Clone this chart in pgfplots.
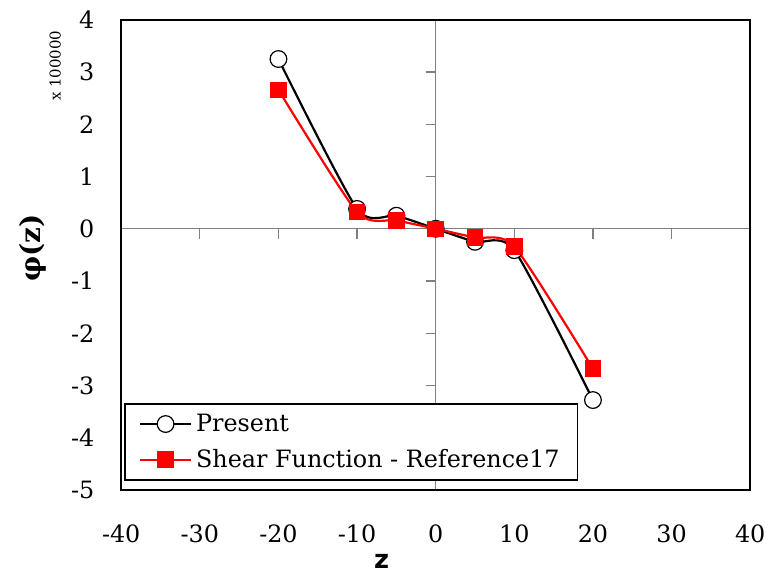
\documentclass[border=0pt]{standalone}
\usepackage{pgfplots}
\pgfplotsset{compat=1.18}
\usepackage{fontspec}
\setmainfont{DejaVu Serif}
\newfontfamily\labsans{DejaVu Sans}
\definecolor{axgrey}{HTML}{808080}
\definecolor{refred}{HTML}{FF0000}

\begin{document}
\begin{tikzpicture}
\pgfplotsset{
  myframe/.style={
    width=316.5pt, height=236.5pt, scale only axis,
    xmin=-40, xmax=40, ymin=-5, ymax=4,
  },
}
% zero lines, x ticks below the x zero line
\begin{axis}[
  myframe,
  axis lines=middle,
  axis line style={draw=axgrey, line width=0.6pt, -},
  xtick={-30,-20,-10,0,10,20,30},
  ytick=\empty,
  tick align=outside,
  major tick length=5pt,
  tick style={draw=axgrey, line width=0.6pt},
  xticklabels={},
]
\end{axis}
% y ticks on the left of the y zero line (right half of the plot)
\begin{axis}[
  width=158.25pt, height=236.5pt, scale only axis,
  at={(158.25pt,0pt)}, anchor=south west,
  xmin=0, xmax=40, ymin=-5, ymax=4,
  axis y line=left, axis x line=none,
  axis line style={draw=none},
  ytick={-4,-3,-2,-1,1,2,3},
  tick align=outside,
  major tick length=5pt,
  tick style={draw=axgrey, line width=0.6pt},
  yticklabels={},
]
\end{axis}
% frame, labels and data
\begin{axis}[
  myframe,
  axis lines=box,
  axis line style={draw=black, line width=0.8pt},
  xtick={-40,-30,-20,-10,0,10,20,30,40},
  xticklabels={-40,-30,-20,-10,0,10,20,30,40},
  ytick={-5,-4,-3,-2,-1,0,1,2,3,4},
  yticklabels={-5,-4,-3,-2,-1,0,1,2,3,4},
  major tick length=0pt,
  tick label style={font=\fontsize{12}{14}\selectfont},
  xticklabel style={yshift=-14pt},
  yticklabel style={xshift=-10pt},
  xlabel={\labsans\bfseries\fontsize{13}{15}\selectfont z},
  xlabel style={at={(rel axis cs:0.414,0)}, anchor=north, yshift=-29pt},
  clip=false,
  legend cell align=left,
  legend style={
    at={(rel axis cs:0.005,0.019)}, anchor=south west,
    draw=black, line width=0.8pt,
    font=\fontsize{12}{14}\selectfont,
    inner xsep=7pt, inner ysep=3pt,
    row sep=3.5pt,
  },
  legend image code/.code={%
    \draw[mark repeat=2, mark phase=2]
      plot coordinates {(0cm,0cm) (0.45cm,0cm) (0.9cm,0cm)};%
  },
]
\addplot[black, line width=1.1pt, smooth, tension=0.4,
  mark=*, mark size=4.2pt, mark options={fill=white, draw=black, line width=0.6pt}]
  coordinates {
  (-20, 3.25) (-10, 0.38) (-5, 0.25) (0, 0) (5, -0.25) (10, -0.41) (20, -3.28)
};
\addlegendentry{Present}
\addplot[refred, line width=1.1pt, smooth, tension=0.4,
  mark=square*, mark size=3.6pt, mark options={fill=refred, draw=refred}]
  coordinates {
  (-20, 2.66) (-10, 0.32) (-5, 0.16) (0, 0) (5, -0.17) (10, -0.34) (20, -2.68)
};
\addlegendentry{Shear Function - Reference17}
\node[rotate=90, font=\fontsize{7.5}{9}\selectfont] at (rel axis cs:-0.105,0.902) {x 100000};
\node[rotate=90, font=\bfseries\fontsize{14}{16}\selectfont] at (rel axis cs:-0.1406,0.514) {φ(z)};
\path (rel axis cs:-0.1927,1.0423) (rel axis cs:1.0269,-0.1543);
\end{axis}
\end{tikzpicture}
\end{document}
